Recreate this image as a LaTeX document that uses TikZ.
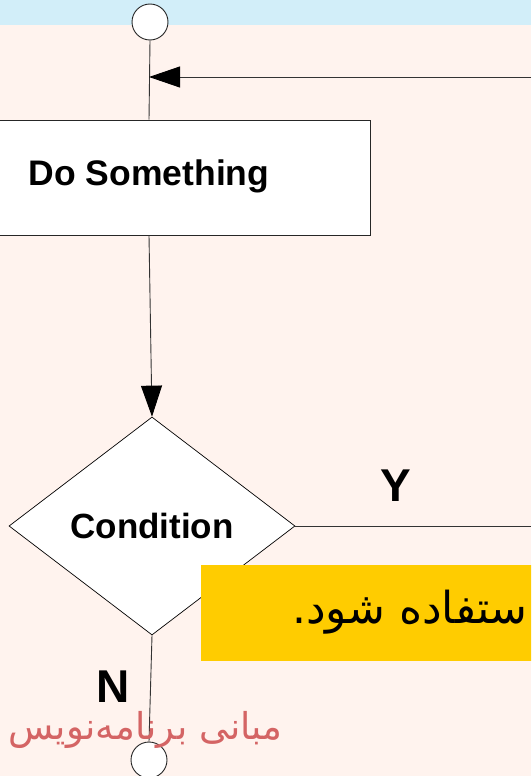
\documentclass[tikz,border=0pt]{standalone}
\usepackage{fontspec}
\setmainfont{Liberation Sans}
\newfontfamily\arabicfont[Script=Arabic]{DejaVu Sans}
\TeXXeTstate=1
\usetikzlibrary{arrows.meta,shapes.geometric}
\definecolor{pagebg}{HTML}{FFF3EE}
\definecolor{bandblue}{HTML}{D2EEF9}
\definecolor{notebg}{HTML}{FFCC00}
\definecolor{markred}{HTML}{D46464}
\tikzset{
  flowline/.style={draw=black!80, line width=0.9pt},
  flowarrow/.style={flowline, -{Triangle[length=31pt,width=21pt,color=black]}},
  terminal/.style={circle, draw=black!85, fill=white, line width=0.9pt, minimum size=36pt, inner sep=0pt},
  process/.style={rectangle, draw=black!85, fill=white, line width=0.8pt, minimum width=442pt, minimum height=115pt},
  decision/.style={diamond, draw=black, fill=white, line width=0.7pt, minimum width=286pt, minimum height=218pt, inner sep=0pt, font=\bfseries\fontsize{35}{38}\selectfont},
  branchlabel/.style={font=\bfseries\fontsize{46}{50}\selectfont, inner sep=0pt}
}
\begin{document}
\begin{tikzpicture}[x=1pt,y=-1pt]
  \useasboundingbox (0,0) rectangle (531,776);
  \clip (0,0) rectangle (531,776);
  % page and header band
  \fill[pagebg] (0,0) rectangle (531,776);
  \fill[bandblue] (0,0) rectangle (531,25);

  % flow elements
  \node[terminal] (start) at (150,22) {};
  \node[process] (do) at (149,177.5) {};
  \node[font=\bfseries\fontsize{35.5}{38}\selectfont] (dotext) at (149,176) {Do Something};
  \node[decision] (cond) at (152,526) {Condition};
  \node[terminal] (stop) at (149,760) {};

  % connectors
  \coordinate (loopin) at (531,77);
  \coordinate (join) at (149,77);
  \coordinate (yesout) at (531,526);
  \draw[flowline] (start.south) -- (do.north);
  \draw[flowarrow] (loopin) -- (join);
  \draw[flowarrow] (do.south) -- (cond.north);
  \draw[flowline] (cond.east) -- (yesout);
  \draw[flowline] (cond.south) -- (stop.north);

  % branch labels
  \node[branchlabel] (ylab) at (396,486) {Y};
  \node[branchlabel] (nlab) at (113,687) {N};

  % note box
  \node[fill=notebg, minimum width=340pt, minimum height=96pt, inner sep=0pt, anchor=north west] (note) at (201,565) {};
  \node[anchor=east, inner sep=0pt, font=\arabicfont\fontsize{44}{48}\selectfont] (notetext) at (528,612) {\beginR ستفاده شود.\endR};

  % footer mark
  \node[anchor=east, inner sep=0pt, text=markred, font=\arabicfont\fontsize{37}{42}\selectfont] (mark) at (283,730) {\beginR مبانی برنامه‌نویس\endR};
\end{tikzpicture}
\end{document}
